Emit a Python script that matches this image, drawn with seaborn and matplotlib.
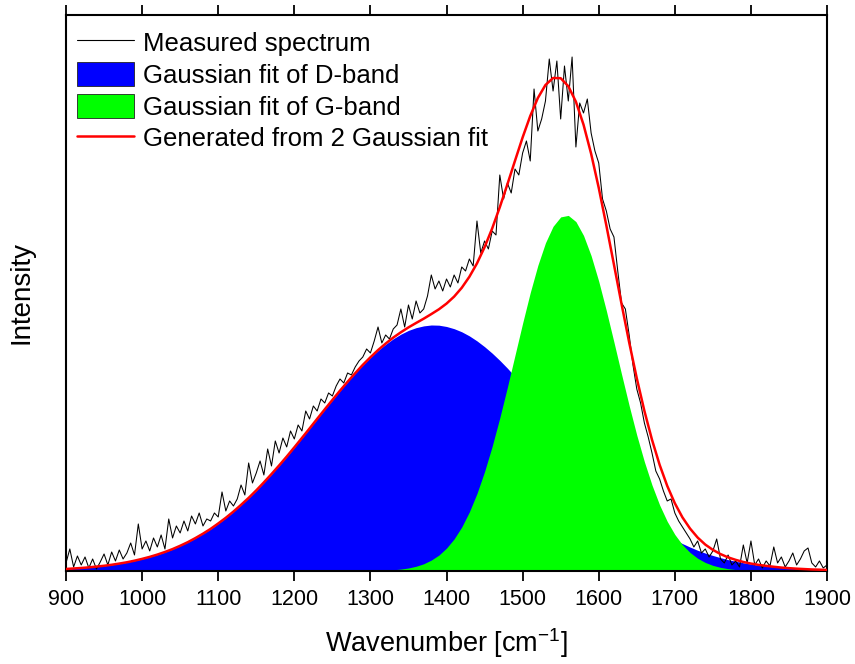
import matplotlib
matplotlib.use("Agg")
import matplotlib.pyplot as plt
from matplotlib.lines import Line2D
from matplotlib.patches import Patch
import numpy as np
import pandas as pd
import seaborn as sns

# ---------------- data ----------------
# Measured spectrum, every 5 cm^-1 (intensity in arbitrary units)
measured_wavenumber = list(range(900, 1901, 5))
measured_intensity = [
    8, 22, 4, 15, 6, 14, 3, 12, 2, 9,
    17, 6, 19, 10, 21, 12, 18, 28, 16, 47,
    22, 30, 20, 33, 24, 36, 22, 52, 33, 45,
    38, 50, 40, 55, 47, 58, 45, 52, 50, 58,
    54, 79, 60, 70, 65, 72, 86, 76, 108, 88,
    98, 110, 96, 122, 105, 130, 118, 133, 124, 140,
    132, 146, 140, 160, 152, 165, 160, 172, 168, 178,
    175, 185, 192, 188, 198, 196, 204, 210, 214, 222,
    218, 230, 244, 228, 236, 232, 242, 246, 262, 244,
    266, 252, 270, 258, 262, 275, 296, 282, 290, 280,
    292, 284, 296, 288, 304, 300, 312, 305, 350, 318,
    330, 322, 340, 336, 396, 372, 388, 378, 402, 396,
    418, 430, 410, 482, 440, 452, 470, 512, 480, 510,
    452, 505, 470, 514, 424, 468, 458, 472, 438, 420,
    408, 372, 360, 342, 334, 300, 268, 262, 236, 206,
    182, 168, 148, 134, 118, 100, 92, 80, 70, 72,
    58, 50, 44, 38, 32, 24, 30, 18, 22, 14,
    20, 32, 12, 8, 16, 6, 10, 4, 26, 8,
    30, 6, 12, 3, 10, 5, 24, 8, 14, 4,
    10, 18, 6, 12, 20, 23, 8, 4, 10, 3,
    6,
]

# Fitted curves, every 10 cm^-1
fit_wavenumber = list(range(900, 1901, 10))
d_band = [
    2.0, 2.5, 3.0, 3.6, 4.4, 5.2, 6.2, 7.4, 8.7, 10.3,
    12.1, 14.1, 16.4, 19.0, 21.9, 25.2, 28.8, 32.9, 37.3, 42.1,
    47.5, 53.2, 59.4, 66.1, 73.1, 80.6, 88.6, 96.9, 105.5, 114.4,
    123.6, 133.0, 142.5, 152.1, 161.6, 171.0, 180.3, 189.2, 197.8, 206.0,
    213.5, 220.5, 226.7, 232.2, 236.8, 240.6, 243.3, 245.1, 246.0, 245.8,
    244.5, 242.3, 239.2, 235.1, 230.1, 224.3, 217.8, 210.6, 202.8, 194.4,
    185.7, 176.6, 167.3, 157.8, 148.3, 138.7, 129.2, 119.9, 110.8, 102.0,
    93.5, 85.3, 77.6, 70.2, 63.3, 56.9, 50.9, 45.3, 40.2, 35.5,
    31.2, 27.4, 23.9, 20.7, 17.9, 15.5, 13.3, 11.3, 9.7, 8.2,
    6.9, 5.8, 4.9, 4.1, 3.4, 2.8, 2.3, 1.9, 1.5, 1.3,
    1.0,
]
g_band = [
    0.0, 0.0, 0.0, 0.0, 0.0, 0.0, 0.0, 0.0, 0.0, 0.0,
    0.0, 0.0, 0.0, 0.0, 0.0, 0.0, 0.0, 0.0, 0.0, 0.0,
    0.0, 0.0, 0.0, 0.0, 0.0, 0.0, 0.0, 0.0, 0.0, 0.0,
    0.0, 0.0, 0.0, 0.0, 0.0, 0.0, 0.0, 0.0, 0.0, 0.0,
    0.2, 0.4, 0.7, 1.2, 1.9, 3.0, 4.7, 7.2, 10.9, 15.9,
    22.9, 32.1, 44.0, 59.1, 77.5, 99.5, 124.8, 153.2, 183.9, 215.9,
    247.9, 278.4, 305.7, 328.2, 344.7, 354.1, 355.6, 349.4, 335.6, 315.3,
    289.7, 260.3, 228.8, 196.7, 165.3, 135.8, 109.2, 85.9, 66.0, 49.6,
    36.5, 26.2, 18.5, 12.7, 8.5, 5.6, 3.6, 2.3, 1.4, 0.8,
    0.5, 0.3, 0.2, 0.1, 0.0, 0.0, 0.0, 0.0, 0.0, 0.0,
    0.0,
]
fit_sum = [
    2.0, 2.5, 3.0, 3.6, 4.4, 5.2, 6.2, 7.4, 8.7, 10.3,
    12.1, 14.1, 16.4, 19.0, 21.9, 25.2, 28.8, 32.9, 37.3, 42.1,
    47.5, 53.2, 59.4, 66.1, 73.1, 80.6, 88.6, 96.9, 105.5, 114.4,
    123.6, 133.0, 142.5, 152.1, 161.6, 171.0, 180.3, 189.2, 197.8, 206.1,
    213.7, 220.9, 227.4, 233.4, 238.7, 243.6, 248.0, 252.3, 256.9, 261.7,
    267.4, 274.4, 283.2, 294.2, 307.6, 323.8, 342.6, 363.8, 386.7, 410.3,
    433.6, 455.0, 473.0, 486.0, 493.0, 492.8, 484.8, 469.3, 446.4, 417.3,
    383.2, 345.6, 306.4, 266.9, 228.6, 192.7, 160.1, 131.2, 106.2, 85.1,
    67.7, 53.6, 42.4, 33.4, 26.4, 21.1, 16.9, 13.6, 11.1, 9.0,
    7.4, 6.1, 5.1, 4.2, 3.4, 2.8, 2.3, 1.9, 1.5, 1.3,
    1.0,
]
x_ticks = [900, 1000, 1100, 1200, 1300, 1400, 1500, 1600, 1700, 1800, 1900]
legend_labels = [
    "Measured spectrum",
    "Gaussian fit of D-band",
    "Gaussian fit of G-band",
    "Generated from 2 Gaussian fit",
]

measured = pd.DataFrame({"wavenumber": measured_wavenumber,
                         "intensity": measured_intensity})
fits = pd.DataFrame({"wavenumber": fit_wavenumber, "D": d_band,
                     "G": g_band, "sum": fit_sum})

# ---------------- styling ----------------
sns.set_style("ticks")
plt.rcParams["font.family"] = ["Liberation Sans", "DejaVu Sans"]
plt.rcParams["mathtext.fontset"] = "custom"
plt.rcParams["mathtext.rm"] = "Liberation Sans"
plt.rcParams["text.color"] = "black"
plt.rcParams["axes.labelcolor"] = "black"
plt.rcParams["xtick.color"] = "black"
plt.rcParams["ytick.color"] = "black"

fig = plt.figure(figsize=(8.55, 6.64), dpi=100)
ax = fig.add_axes([0.0772, 0.1401, 0.8901, 0.8373])

# fills
ax.fill_between(fits["wavenumber"], 0, fits["D"], color="#0000FF",
                linewidth=0, zorder=1)
ax.fill_between(fits["wavenumber"], 0, fits["G"], color="#00FF00",
                linewidth=0, zorder=2)

# lines
sns.lineplot(data=measured, x="wavenumber", y="intensity", ax=ax,
             color="black", linewidth=0.75, zorder=3, estimator=None)
sns.lineplot(data=fits, x="wavenumber", y="sum", ax=ax,
             color="#FF0000", linewidth=1.8, zorder=4, estimator=None)

ax.set_xlim(900, 1900)
ax.set_ylim(0, 556)
ax.set_xticks(x_ticks)
ax.set_xticklabels([str(t) for t in x_ticks], fontsize=15.5)
ax.set_yticks([])
ax.tick_params(axis="x", direction="out", length=7, width=1.3,
               top=True, labeltop=False, pad=6, colors="black")

for side in ["left", "right", "top", "bottom"]:
    ax.spines[side].set_visible(True)
    ax.spines[side].set_linewidth(1.5)
    ax.spines[side].set_color("black")

ax.set_xlabel(r"Wavenumber [cm$^{-1}$]", fontsize=19.5, labelpad=12,
              color="black")
ax.set_ylabel("Intensity", fontsize=20, labelpad=23, color="black")

handles = [
    Line2D([], [], color="black", linewidth=0.8),
    Patch(facecolor="#0000FF", edgecolor="#222222", linewidth=0.6),
    Patch(facecolor="#00FF00", edgecolor="#222222", linewidth=0.6),
    Line2D([], [], color="#FF0000", linewidth=1.8),
]
leg = ax.legend(handles, legend_labels, loc="upper left", frameon=False,
                fontsize=18.5, handlelength=2.2, handleheight=1.08,
                handletextpad=0.35, labelspacing=0.23,
                borderaxespad=0.0, borderpad=0.0,
                bbox_to_anchor=(0.0145, 0.973))
for t in leg.get_texts():
    t.set_color("black")

fig.savefig("out.png", dpi=100)
